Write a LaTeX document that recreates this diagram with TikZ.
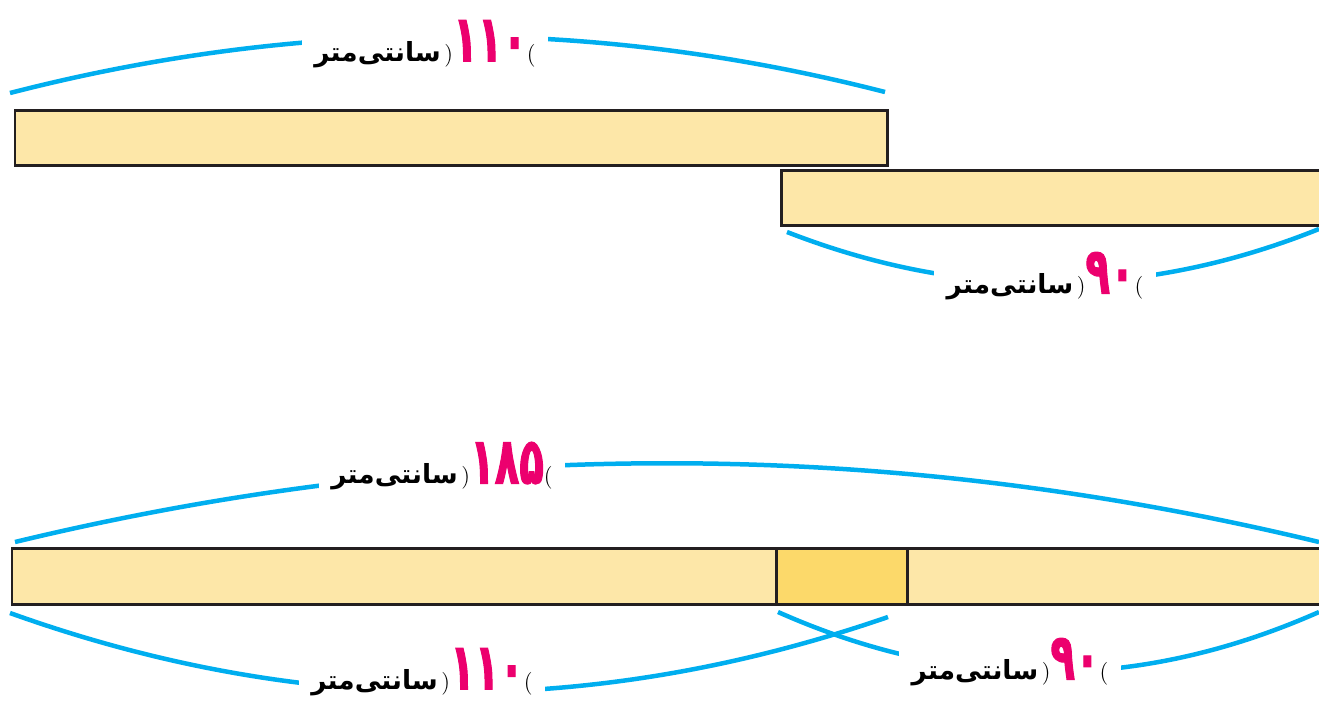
\documentclass[tikz,border=0pt]{standalone}
\usepackage{fontspec}
\newfontfamily\fafont[Script=Arabic]{DejaVu Sans}
\newfontfamily\numfont[Script=Arabic,FakeStretch=0.62,FakeBold=1.5]{DejaVu Sans Bold}
\definecolor{woodfill}{RGB}{253,231,168}
\definecolor{jointfill}{RGB}{252,217,106}
\definecolor{barline}{RGB}{35,31,32}
\definecolor{spanblue}{RGB}{0,174,239}
\definecolor{numpink}{RGB}{236,0,110}
\newcommand{\santimetr}[1]{{\fafont\bfseries\fontsize{15}{18}\selectfont سانتی‌متر}\kern2pt{\fontsize{13}{15}\selectfont)}{\numfont\fontsize{37}{38}\selectfont\color{numpink}#1}{\fontsize{13}{15}\selectfont(}}

\begin{document}
\begin{tikzpicture}[x=0.02cm, y=-0.02cm,
  bar/.style={draw=barline, line width=0.06cm, fill=woodfill},
  span/.style={draw=spanblue, line width=0.09cm},
  lbl/.style={fill=white, inner xsep=0.25cm, inner ysep=1pt}]
\path[use as bounding box] (0,0) rectangle (1319,704);
\clip (0,0) rectangle (1319,704);
\draw[bar] (15,110) rectangle (887,165);
\draw[bar] (781,170) rectangle (1340,225);
\draw[bar] (12,548) rectangle (1340,604);
\draw[bar, fill=jointfill] (776,548) rectangle (907,604);
\draw[span] (10,93) .. controls (301,18) and (593,17) .. (885,92);
\draw[span] (787,232) .. controls (964,301) and (1142,300) .. (1319,229);
\draw[span] (15,542) .. controls (450,437) and (884,437) .. (1319,542);
\draw[span] (10,613) .. controls (303,718) and (595,718) .. (888,617);
\draw[span] (778,612) .. controls (958,692) and (1138,692) .. (1319,612);
\node[lbl] (top110) at (425,44) {\santimetr{۱۱۰}};
\node[lbl] (top90) at (1045,276) {\santimetr{۹۰}};
\node[lbl] (all185) at (442,466) {\santimetr{۱۸۵}};
\node[lbl] (low110) at (422,672) {\santimetr{۱۱۰}};
\node[lbl] (low90) at (1010,662) {\santimetr{۹۰}};
\end{tikzpicture}
\end{document}
